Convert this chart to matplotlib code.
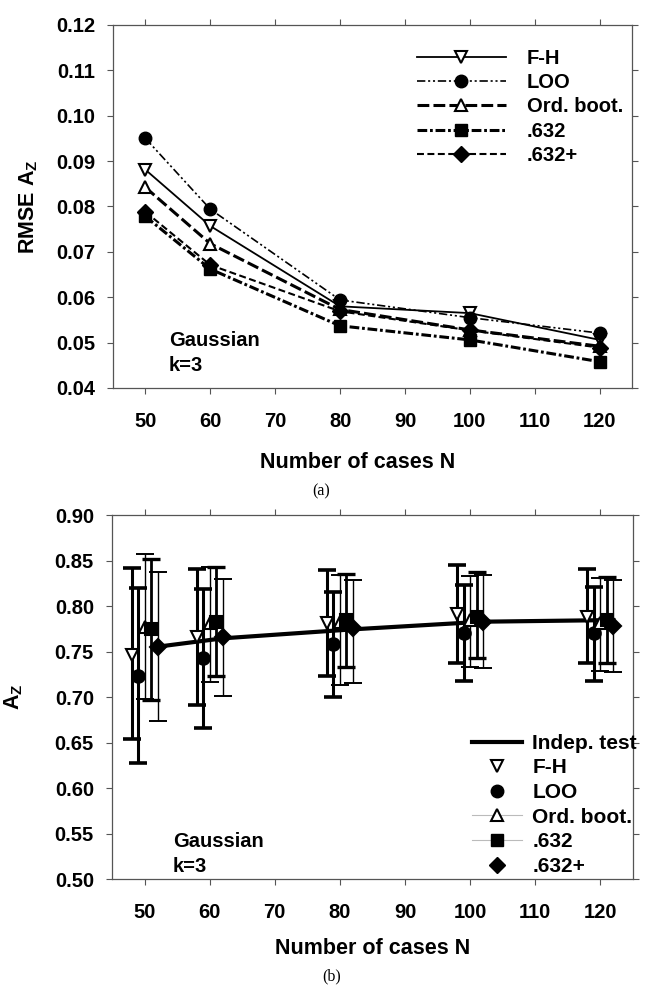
import matplotlib
matplotlib.use('Agg')
from matplotlib import pyplot as plt
from matplotlib.lines import Line2D

plt.rcParams['font.family'] = ['Liberation Sans', 'DejaVu Sans']
plt.rcParams['font.weight'] = 'bold'
plt.rcParams['mathtext.fontset'] = 'custom'
plt.rcParams['mathtext.rm'] = 'Liberation Sans:bold'
plt.rcParams['mathtext.it'] = 'Liberation Sans:bold'
plt.rcParams['mathtext.bf'] = 'Liberation Sans:bold'
plt.rcParams['lines.scale_dashes'] = False

# ---- data ----
N = [50, 60, 80, 100, 120]

# (a) RMSE of Az
rmse_fh = [0.0881, 0.0757, 0.0580, 0.0565, 0.0506]
rmse_loo = [0.0950, 0.0794, 0.0594, 0.0555, 0.0521]
rmse_ord = [0.0842, 0.0718, 0.0573, 0.0528, 0.0492]
rmse_632 = [0.0778, 0.0662, 0.0537, 0.0506, 0.0458]
rmse_632p = [0.0788, 0.0671, 0.0569, 0.0527, 0.0489]

# (b) mean Az with error bars
az_indep = [0.7553, 0.7645, 0.7744, 0.7828, 0.7846]

az_fh = [0.7462, 0.7656, 0.7817, 0.7912, 0.7883]
az_fh_lo = [0.6538, 0.6912, 0.7231, 0.7370, 0.7370]
az_fh_hi = [0.8414, 0.8407, 0.8396, 0.8451, 0.8403]

az_loo = [0.7231, 0.7425, 0.7579, 0.7700, 0.7700]
az_loo_lo = [0.6272, 0.6663, 0.6997, 0.7180, 0.7176]
az_loo_hi = [0.8194, 0.8183, 0.8157, 0.8231, 0.8205]

az_ord = [0.7773, 0.7810, 0.7820, 0.7846, 0.7810]
az_ord_lo = [0.6978, 0.7168, 0.7130, 0.7333, 0.7289]
az_ord_hi = [0.8568, 0.8425, 0.8340, 0.8330, 0.8304]

az_632 = [0.7744, 0.7828, 0.7846, 0.7883, 0.7846]
az_632_lo = [0.6967, 0.7231, 0.7333, 0.7425, 0.7370]
az_632_hi = [0.8513, 0.8425, 0.8352, 0.8377, 0.8322]

az_632p = [0.7553, 0.7656, 0.7755, 0.7828, 0.7780]
az_632p_lo = [0.6740, 0.7011, 0.7158, 0.7315, 0.7278]
az_632p_hi = [0.8377, 0.8293, 0.8286, 0.8341, 0.8286]

labels = ['F-H', 'LOO', 'Ord. boot.', '.632', '.632+']


def style_axes(ax, ylim, yticks, yfmt):
    ax.set_xlim(45, 125)
    ax.set_xticks([50, 60, 70, 80, 90, 100, 110, 120])
    ax.set_ylim(*ylim)
    ax.set_yticks(yticks)
    ax.set_yticklabels([yfmt % v for v in yticks])
    for s in ax.spines.values():
        s.set_color('#555555')
        s.set_linewidth(0.9)
    ax.tick_params(axis='both', which='both', direction='out', length=4,
                   color='#555555', width=0.8, labelsize=14.5,
                   top=True, right=True)
    ax.tick_params(axis='x', pad=13)
    ax.tick_params(axis='y', pad=9)
    ax.set_xlabel('Number of cases N', fontsize=15.5, fontweight='bold', labelpad=12)


fig = plt.figure(figsize=(6.51, 9.88), dpi=100)

# ---------------- (a) ----------------
ax1 = fig.add_axes([0.1736, 0.6073, 0.7972, 0.3674])
ms = 9
ax1.plot(N, rmse_fh, color='black', lw=1.3, ls='-', marker='v', ms=ms,
         mfc='white', mec='black', mew=1.5, label=labels[0])
ax1.plot(N, rmse_loo, color='black', lw=1.2, ls=(0, (6, 2, 1.5, 2, 1.5, 2)),
         marker='o', ms=ms, mfc='black', mec='black', label=labels[1])
ax1.plot(N, rmse_ord, color='black', lw=2.2, ls=(0, (8.5, 3)), marker='^',
         ms=ms, mfc='white', mec='black', mew=1.5, label=labels[2])
ax1.plot(N, rmse_632, color='black', lw=2.2, ls=(0, (7, 2, 2, 2)), marker='s',
         ms=ms - 0.5, mfc='black', mec='black', label=labels[3])
ax1.plot(N, rmse_632p, color='black', lw=1.5, ls=(0, (5, 2.5)), marker='D',
         ms=ms - 1, mfc='black', mec='black', label=labels[4])
style_axes(ax1, (0.04, 0.12), [0.04 + 0.01 * i for i in range(9)], '%.2f')
ax1.xaxis.set_label_coords(0.472, -0.177)
ax1.set_ylabel('RMSE A$_{\\mathrm{Z}}$', fontsize=15.5, fontweight='bold')
ax1.yaxis.set_label_coords(-0.14, 0.5)
ax1.legend(loc='upper left', bbox_to_anchor=(0.586, 0.935), frameon=False,
           fontsize=14.5, handlelength=4.4, handletextpad=1.05, labelspacing=0.27,
           borderpad=0, borderaxespad=0, numpoints=1)
ax1.text(0.108, 0.037, 'Gaussian\nk=3', transform=ax1.transAxes, fontsize=14.5,
         fontweight='bold', ha='left', va='bottom', linespacing=1.4)
fig.text(0.494, 1 - 491 / 988, '(a)', family='Liberation Serif', fontsize=11.5,
         fontweight='normal', ha='center', va='center')

# ---------------- (b) ----------------
ax2 = fig.add_axes([0.172, 0.1103, 0.8003, 0.3684])
series = [
    (az_fh, az_fh_lo, az_fh_hi, -2, 'v', 'white', 2.2),
    (az_loo, az_loo_lo, az_loo_hi, -1, 'o', 'black', 2.2),
    (az_ord, az_ord_lo, az_ord_hi, 0, '^', 'white', 1.0),
    (az_632, az_632_lo, az_632_hi, 1, 's', 'black', 2.0),
    (az_632p, az_632p_lo, az_632p_hi, 2, 'D', 'black', 1.0),
]
for mean, lo, hi, off, mk, fc, elw in series:
    xs = [n + off for n in N]
    yerr = [[m - l for m, l in zip(mean, lo)], [h - m for m, h in zip(mean, hi)]]
    ax2.errorbar(xs, mean, yerr=yerr, fmt='none', ecolor='black', elinewidth=elw,
                 capsize=6.5, capthick=elw + 0.4, zorder=2)
ax2.plot([n + 2 for n in N], az_indep, color='black', lw=3, zorder=3)
for mean, lo, hi, off, mk, fc, elw in series:
    xs = [n + off for n in N]
    ax2.plot(xs, mean, ls='none', marker=mk, ms=ms - (1 if mk == 'D' else 0),
             mfc=fc, mec='black', mew=1.5, zorder=4)
style_axes(ax2, (0.50, 0.90), [0.50 + 0.05 * i for i in range(9)], '%.2f')
ax2.set_ylabel('A$_{\\mathrm{Z}}$', fontsize=15.5, fontweight='bold')
ax2.yaxis.set_label_coords(-0.167, 0.5)

handles = [
    Line2D([], [], color='black', lw=3),
    Line2D([], [], ls='none', marker='v', ms=ms, mfc='white', mec='black', mew=1.5),
    Line2D([], [], ls='none', marker='o', ms=ms, mfc='black', mec='black'),
    Line2D([], [], color='#bbbbbb', lw=0.8, marker='^', ms=ms, mfc='white',
           mec='black', mew=1.5),
    Line2D([], [], color='#bbbbbb', lw=0.8, marker='s', ms=ms - 0.5, mfc='black',
           mec='black'),
    Line2D([], [], ls='none', marker='D', ms=ms - 1, mfc='black', mec='black'),
]
ax2.legend(handles, ['Indep. test'] + labels, loc='upper left',
           bbox_to_anchor=(0.691, 0.399), frameon=False, fontsize=15,
           handlelength=2.4, handletextpad=0.5, labelspacing=0.27,
           borderpad=0, borderaxespad=0, numpoints=1)
ax2.text(0.117, 0.009, 'Gaussian\nk=3', transform=ax2.transAxes, fontsize=14.5,
         fontweight='bold', ha='left', va='bottom', linespacing=1.4)
fig.text(0.509, 1 - 976 / 988, '(b)', family='Liberation Serif', fontsize=11.5,
         fontweight='normal', ha='center', va='center')

fig.savefig('out.png', dpi=100, facecolor='white')
